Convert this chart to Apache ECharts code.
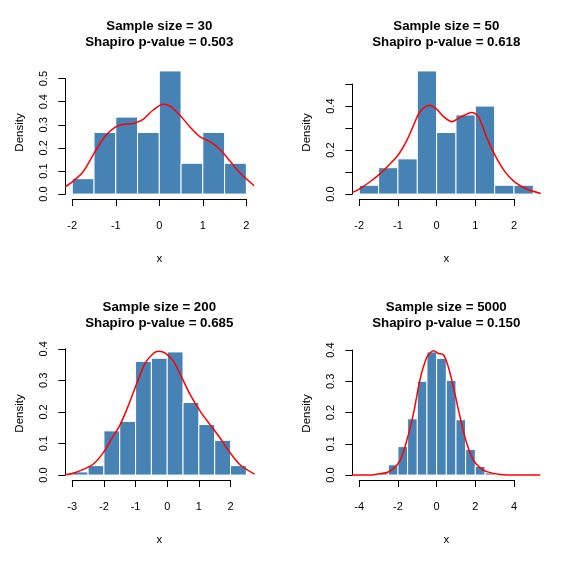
<!DOCTYPE html>
<html><head><meta charset="utf-8">
<script src="https://cdn.jsdelivr.net/npm/echarts@6/dist/echarts.min.js"></script>
<style>html,body{margin:0;padding:0;background:#fff}#c{width:574px;height:562px}</style>
</head><body><div id="c"></div>
<script>
// ---- data ----
const sampleSizes = [30, 50, 200, 5000];
const pValues = ['0.503', '0.618', '0.685', '0.150'];

const breaks30 = [-2, -1.5, -1, -0.5, 0, 0.5, 1, 1.5, 2];
const density30 = [0.0667, 0.2667, 0.3333, 0.2667, 0.5333, 0.1333, 0.2667, 0.1333];
const kdeX30 = [-2.16, -2, -1.75, -1.5, -1.25, -1.02, -0.83, -0.6, -0.37, -0.14, 0.09, 0.25, 0.47, 0.7, 0.93, 1.16, 1.39, 1.62, 1.85, 2.18];
const kdeY30 = [0.032, 0.053, 0.097, 0.176, 0.249, 0.289, 0.302, 0.306, 0.324, 0.364, 0.389, 0.381, 0.342, 0.292, 0.249, 0.227, 0.194, 0.144, 0.092, 0.036];

const breaks50 = [-2, -1.5, -1, -0.5, 0, 0.5, 1, 1.5, 2, 2.5];
const density50 = [0.04, 0.12, 0.16, 0.56, 0.28, 0.36, 0.40, 0.04, 0.04];
const kdeX50 = [-2.18, -2, -1.72, -1.46, -1.2, -0.985, -0.77, -0.6, -0.43, -0.185, 0, 0.18, 0.39, 0.61, 0.91, 1.08, 1.29, 1.51, 1.77, 2.03, 2.33, 2.69];
const kdeY50 = [0.0075, 0.0226, 0.056, 0.093, 0.138, 0.18, 0.244, 0.311, 0.374, 0.404, 0.386, 0.352, 0.329, 0.349, 0.371, 0.352, 0.259, 0.176, 0.101, 0.053, 0.023, 0.003];

const breaks200 = [-3, -2.5, -2, -1.5, -1, -0.5, 0, 0.5, 1, 1.5, 2, 2.5];
const density200 = [0.01, 0.03, 0.14, 0.17, 0.36, 0.37, 0.39, 0.23, 0.16, 0.11, 0.03];
const kdeX200 = [-3.22, -3, -2.65, -2.33, -2.02, -1.75, -1.49, -1.22, -0.96, -0.70, -0.43, -0.27, -0.06, 0.2, 0.47, 0.73, 1.05, 1.36, 1.68, 2.0, 2.31, 2.76];
const kdeY200 = [0.001, 0.005, 0.018, 0.035, 0.071, 0.116, 0.159, 0.222, 0.291, 0.354, 0.386, 0.392, 0.386, 0.36, 0.307, 0.254, 0.201, 0.159, 0.116, 0.069, 0.032, 0.003];

const breaks5000 = [-4, -3.5, -3, -2.5, -2, -1.5, -1, -0.5, 0, 0.5, 1, 1.5, 2, 2.5, 3, 3.5, 4, 4.5, 5];
const density5000 = [0.0004, 0.0008, 0.007, 0.033, 0.091, 0.18, 0.30, 0.394, 0.373, 0.303, 0.177, 0.082, 0.028, 0.007, 0.0016, 0.0004, 0, 0.0004];
const kdeX5000 = [-4.36, -3.43, -3.09, -2.57, -2.23, -1.88, -1.54, -1.2, -0.85, -0.51, -0.3, -0.16, 0.09, 0.35, 0.61, 0.87, 1.21, 1.56, 1.9, 2.25, 2.59, 3.28, 4.31, 5.36];
const kdeY5000 = [0, 0, 0.003, 0.008, 0.021, 0.048, 0.111, 0.196, 0.308, 0.377, 0.393, 0.398, 0.389, 0.385, 0.345, 0.281, 0.186, 0.101, 0.048, 0.023, 0.011, 0.002, 0, 0];

const xTicks = [[-2, -1, 0, 1, 2], [-2, -1, 0, 1, 2], [-3, -2, -1, 0, 1, 2], [-4, -2, 0, 2, 4]];
const yTicks = [[0, 0.1, 0.2, 0.3, 0.4, 0.5], [0, 0.1, 0.2, 0.3, 0.4, 0.5], [0, 0.1, 0.2, 0.3, 0.4], [0, 0.1, 0.2, 0.3, 0.4]];
const yLabelStep = [1, 2, 1, 1];

// ---- layout ----
const FONT = '"Liberation Sans", Arial, sans-serif';
const PW = 287, PH = 281;
const PL = 65.3, PT = 66, PWID = 188, PHGT = 133;
const origins = [[0, 0], [PW, 0], [0, PH], [PW, PH]];
const panels = [
  [breaks30, density30, kdeX30, kdeY30],
  [breaks50, density50, kdeX50, kdeY50],
  [breaks200, density200, kdeX200, kdeY200],
  [breaks5000, density5000, kdeX5000, kdeY5000]
];

const option = { animation: false, backgroundColor: '#fff', title: [], grid: [], xAxis: [], yAxis: [], series: [] };

panels.forEach(([br, dens, kx, ky], i) => {
  const [ox, oy] = origins[i];
  const b0 = br[0], bN = br[br.length - 1];
  const xmin = b0 - 0.04 * (bN - b0), xmax = bN + 0.04 * (bN - b0);
  const ymax = Math.max(...dens);
  const ymin = -0.04 * ymax, ymaxE = 1.04 * ymax;
  const L = ox + PL, T = oy + PT;
  const xt = xTicks[i], yt = yTicks[i];
  const ax0 = L + (xt[0] - xmin) / (xmax - xmin) * PWID;
  const ax1 = L + (xt[xt.length - 1] - xmin) / (xmax - xmin) * PWID;
  const ay1 = T + (ymaxE - yt[yt.length - 1]) / (ymaxE - ymin) * PHGT;
  const ay0 = T + (ymaxE - 0) / (ymaxE - ymin) * PHGT;

  option.title.push({
    text: 'Sample size = ' + sampleSizes[i] + '\nShapiro p-value = ' + pValues[i],
    left: L + PWID / 2, top: oy + 18.3, textAlign: 'center', padding: 0,
    textStyle: { fontFamily: FONT, fontWeight: 'bold', fontSize: 13.3, lineHeight: 16, color: '#000' }
  });

  option.grid.push({ left: L, top: T, width: PWID, height: PHGT, containLabel: false, outerBoundsMode: 'none' });
  option.grid.push({ left: ax0, top: ay1, width: ax1 - ax0, height: ay0 - ay1, containLabel: false, outerBoundsMode: 'none' });

  const gD = 2 * i, gA = 2 * i + 1;
  option.xAxis.push({
    gridIndex: gD, type: 'value', min: xmin, max: xmax,
    axisLine: { show: false }, axisTick: { show: false }, axisLabel: { show: false }, splitLine: { show: false },
    name: 'x', nameLocation: 'middle', nameGap: 54,
    nameTextStyle: { fontFamily: FONT, fontSize: 11.5, color: '#000' }
  });
  option.yAxis.push({
    gridIndex: gD, type: 'value', min: ymin, max: ymaxE,
    axisLine: { show: false }, axisTick: { show: false }, axisLabel: { show: false }, splitLine: { show: false },
    name: 'Density', nameLocation: 'middle', nameGap: 39,
    nameTextStyle: { fontFamily: FONT, fontSize: 11.5, color: '#000' }
  });
  const step = xt[1] - xt[0];
  option.xAxis.push({
    gridIndex: gA, type: 'value', min: xt[0], max: xt[xt.length - 1], interval: step,
    position: 'bottom', offset: (T + PHGT) - ay0,
    axisLine: { show: true, onZero: false, lineStyle: { color: '#000', width: 1 } },
    axisTick: { show: true, length: 7, lineStyle: { color: '#000', width: 1 } },
    axisLabel: { show: true, margin: 21, color: '#000', fontSize: 11, fontFamily: FONT, showMinLabel: true, showMaxLabel: true,
      formatter: v => String(Math.round(v)) },
    splitLine: { show: false }
  });
  const ls = yLabelStep[i];
  option.yAxis.push({
    gridIndex: gA, type: 'value', min: 0, max: yt[yt.length - 1], interval: 0.1,
    position: 'left', offset: ax0 - L,
    axisLine: { show: true, onZero: false, lineStyle: { color: '#000', width: 1 } },
    axisTick: { show: true, length: 7, lineStyle: { color: '#000', width: 1 } },
    axisLabel: { show: true, rotate: 90, margin: 16, color: '#000', fontSize: 11, fontFamily: FONT, showMinLabel: true, showMaxLabel: true,
      formatter: v => { const k = Math.round(v * 10); return (k % ls === 0) ? (k / 10).toFixed(1) : ''; } },
    splitLine: { show: false }
  });

  const bins = dens.map((d, j) => [br[j], br[j + 1], d]);
  option.series.push({
    type: 'custom', xAxisIndex: 2 * i, yAxisIndex: 2 * i, data: bins,
    encode: { x: [0, 1], y: 2 },
    renderItem: (params, api) => {
      const p0 = api.coord([api.value(0), api.value(2)]);
      const p1 = api.coord([api.value(1), 0]);
      return { type: 'rect', shape: { x: p0[0], y: p0[1], width: p1[0] - p0[0], height: p1[1] - p0[1] },
        style: { fill: '#4682B4', stroke: '#ffffff', lineWidth: 1 } };
    }
  });
  option.series.push({
    type: 'line', xAxisIndex: 2 * i, yAxisIndex: 2 * i, data: kx.map((x, j) => [x, ky[j]]),
    smooth: 0.3, symbol: 'none', clip: true, z: 5,
    lineStyle: { color: '#ff0000', width: 1.5 }
  });
});

const chart = echarts.init(document.getElementById('c'), null, { renderer: 'canvas' });
chart.setOption(option);
</script>
</body></html>
